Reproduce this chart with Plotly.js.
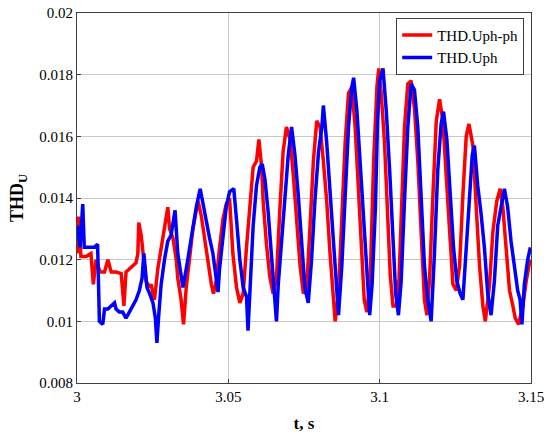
<!DOCTYPE html>
<html>
<head>
<meta charset="utf-8">
<script src="https://cdn.plot.ly/plotly-3.0.1.min.js"></script>
<style>html,body{margin:0;padding:0;background:#fff;}#chart{width:550px;height:438px;}</style>
</head>
<body>
<div id="chart"></div>
<script>
// THD.Uph-ph (red)
const tRed = [3.0000,3.0005,3.0013,3.0030,3.0046,3.0054,3.0063,3.0076,3.0091,3.0102,3.0113,3.0129,3.0146,3.0155,3.0162,3.0173,3.0184,3.0195,3.0201,3.0204,3.0212,3.0217,3.0223,3.0228,3.0240,3.0245,3.0251,3.0256,3.0267,3.0278,3.0289,3.0300,3.0306,3.0317,3.0328,3.0333,3.0344,3.0352,3.0361,3.0372,3.0383,3.0394,3.0400,3.0411,3.0422,3.0433,3.0444,3.0451,3.0460,3.0471,3.0482,3.0493,3.0504,
3.0515,3.0527,3.0538,3.0549,3.0560,3.0571,3.0582,3.0593,3.0601,3.0610,3.0615,3.0626,3.0637,3.0648,3.0659,3.0670,3.0681,3.0692,3.0704,3.0715,3.0726,3.0737,3.0748,3.0759,3.0770,3.0781,3.0792,3.0803,3.0814,3.0825,3.0836,3.0847,3.0853,3.0864,3.0875,3.0886,3.0897,3.0908,3.0919,3.0930,3.0941,3.0949,3.0958,3.0969,3.0980,3.0991,3.0997,
3.1005,3.1016,3.1027,3.1035,3.1044,3.1055,3.1064,3.1071,3.1082,3.1093,3.1104,3.1115,3.1126,3.1137,3.1148,3.1156,3.1165,3.1176,3.1187,3.1198,3.1209,3.1220,3.1231,3.1242,3.1253,3.1264,3.1275,3.1286,3.1295,3.1308,3.1319,3.1330,3.1341,3.1349,3.1363,3.1374,3.1387,3.1398,3.1407,3.1418,3.1429,3.1440,3.1448,3.1459,3.1473,3.1484,3.1497];
const thdUphph = [0.0122,0.0134,0.0121,0.0121,0.0122,0.0112,0.0120,0.0116,0.0116,0.0120,0.0116,0.0116,0.01155,0.0105,0.0116,0.0117,0.0118,0.0119,0.0122,0.0132,0.0128,0.0124,0.0119,0.0113,0.0111,0.0112,0.0109,0.0107,0.0117,0.0124,0.0131,0.0137,0.0130,0.0127,0.0120,0.0114,0.0107,0.0099,0.0111,0.0120,0.0130,0.0136,0.0139,0.0134,0.0126,0.0118,0.0112,0.0109,0.0113,0.0124,0.0133,0.0138,0.0140,
0.0122,0.0111,0.0106,0.0109,0.0124,0.0138,0.0150,0.0152,0.0159,0.0150,0.0139,0.0125,0.01145,0.0109,0.0114,0.0136,0.0155,0.0163,0.0159,0.0147,0.0133,0.0118,0.0109,0.0111,0.0131,0.0152,0.0165,0.0163,0.0152,0.0139,0.0122,0.0107,0.0100,0.0109,0.0133,0.0158,0.0174,0.0176,0.0163,0.0144,0.0124,0.0107,0.0103,0.0114,0.0152,0.0176,0.0182,
0.0174,0.0158,0.0136,0.0115,0.0105,0.0105,0.0114,0.0136,0.0163,0.0177,0.0178,0.0169,0.0152,0.0129,0.0107,0.0102,0.0114,0.0141,0.0165,0.0172,0.0165,0.0147,0.0127,0.0112,0.0110,0.0118,0.0141,0.0160,0.0164,0.0157,0.0137,0.0118,0.0105,0.0100,0.0112,0.0129,0.0139,0.0143,0.0137,0.0124,0.0110,0.0105,0.0101,0.0099,0.0105,0.0113,0.0120];

// THD.Uph (blue)
const tBlue = [3.0000,3.0002,3.0010,3.0019,3.0024,3.0041,3.0057,3.0068,3.0072,3.0074,3.0085,3.0091,3.0102,3.0113,3.0124,3.0129,3.0140,3.0151,3.0162,3.0173,3.0184,3.0195,3.0206,3.0215,3.0221,3.0225,3.0231,3.0240,3.0251,3.0259,3.0264,3.0270,3.0278,3.0289,3.0300,3.0311,3.0324,3.0333,3.0344,3.0350,3.0361,3.0372,3.0383,3.0394,3.0407,3.0416,3.0427,3.0438,3.0449,3.0460,3.0466,3.0471,3.0482,3.0493,3.0504,
3.0518,3.0527,3.0538,3.0549,3.0560,3.0565,3.0571,3.0582,3.0593,3.0604,3.0612,3.0621,3.0632,3.0643,3.0654,3.0659,3.0665,3.0676,3.0687,3.0698,3.0709,3.0720,3.0731,3.0742,3.0753,3.0764,3.0775,3.0786,3.0798,3.0809,3.0814,3.0825,3.0836,3.0847,3.0858,3.0864,3.0875,3.0886,3.0897,3.0908,3.0914,3.0925,3.0936,3.0947,3.0958,3.0967,3.0975,3.0986,3.0993,
3.1000,3.1011,3.1022,3.1033,3.1044,3.1053,3.1062,3.1071,3.1082,3.1093,3.1104,3.1115,3.1126,3.1137,3.1148,3.1159,3.1170,3.1181,3.1192,3.1203,3.1211,3.1222,3.1233,3.1244,3.1255,3.1266,3.1275,3.1284,3.1295,3.1306,3.1313,3.1324,3.1335,3.1346,3.1357,3.1368,3.1379,3.1390,3.1401,3.1412,3.1423,3.1434,3.1445,3.1456,3.1464,3.1470,3.1478,3.1489,3.1498];
const thdUph = [0.0127,0.0131,0.0124,0.0138,0.0124,0.0124,0.0124,0.0125,0.0112,0.0100,0.0099,0.0104,0.0104,0.0105,0.0106,0.0104,0.0103,0.0103,0.0101,0.0103,0.0105,0.0107,0.0110,0.0114,0.0122,0.0117,0.0111,0.0109,0.0106,0.0101,0.0093,0.0102,0.0112,0.0120,0.0126,0.0128,0.0136,0.0122,0.0114,0.0111,0.0117,0.0124,0.0131,0.0137,0.0143,0.0138,0.0133,0.0127,0.0122,0.0114,0.01095,0.0117,0.0126,0.0137,0.0142,
0.0143,0.0133,0.0120,0.0111,0.0108,0.0097,0.0109,0.0131,0.0144,0.0150,0.0151,0.0146,0.0135,0.0122,0.0109,0.0100,0.0112,0.0126,0.0141,0.0154,0.0163,0.0154,0.0141,0.0124,0.0111,0.0106,0.0120,0.0139,0.0155,0.0163,0.0170,0.0158,0.0141,0.0124,0.0107,0.0102,0.0118,0.0141,0.0163,0.0176,0.0179,0.0168,0.0150,0.0133,0.0113,0.0102,0.0112,0.0137,0.0165,
0.0178,0.0182,0.0168,0.0149,0.0127,0.0109,0.0102,0.0113,0.0139,0.0163,0.0177,0.0175,0.0163,0.0139,0.0118,0.0107,0.0100,0.0122,0.0149,0.0164,0.0168,0.0159,0.0139,0.0124,0.0113,0.0109,0.0107,0.0120,0.0139,0.0154,0.0157,0.0144,0.0135,0.0124,0.0109,0.0102,0.0113,0.0131,0.0137,0.0143,0.0137,0.0126,0.0118,0.0110,0.0107,0.0099,0.0112,0.0120,0.0124];

const xTicks = [3, 3.05, 3.1, 3.15];
const xTickText = ['3', '3.05', '3.1', '3.15'];
const yTicks = [0.008, 0.01, 0.012, 0.014, 0.016, 0.018, 0.02];
const yTickText = ['0.008', '0.01', '0.012', '0.014', '0.016', '0.018', '0.02'];

const fam = 'Liberation Serif, Times New Roman, DejaVu Serif, serif';
const font = {family: fam, size: 15, color: '#000'};

const traces = [
  {x: tRed, y: thdUphph, type: 'scatter', mode: 'lines', name: 'THD.Uph-ph',
   line: {color: '#ff0000', width: 3.5}},
  {x: tBlue, y: thdUph, type: 'scatter', mode: 'lines', name: 'THD.Uph',
   line: {color: '#0000ff', width: 3.5}}
];

const axisCommon = {
  showgrid: true, gridcolor: '#c8c8c8', gridwidth: 1,
  showline: true, linecolor: '#404040', linewidth: 1, mirror: true,
  ticks: 'inside', ticklen: 4, tickcolor: '#404040',
  zeroline: false, tickfont: font
};

const layout = {
  width: 550, height: 438,
  margin: {l: 77, r: 19, t: 13, b: 55},
  paper_bgcolor: '#fff', plot_bgcolor: '#fff',
  font: font,
  showlegend: true,
  legend: {x: 0.985, y: 0.987, xanchor: 'right', yanchor: 'top',
           bgcolor: '#fff', bordercolor: '#404040', borderwidth: 1,
           font: {family: fam, size: 15, color: '#000'}, tracegroupgap: 0},
  xaxis: Object.assign({}, axisCommon, {
    range: [3, 3.15], tickmode: 'array', tickvals: xTicks, ticktext: xTickText,
    title: {text: '<b>t, s</b>', font: {family: fam, size: 17, color: '#000'}, standoff: 13}
  }),
  yaxis: Object.assign({}, axisCommon, {
    range: [0.008, 0.02], tickmode: 'array', tickvals: yTicks, ticktext: yTickText,
    title: {text: '<b>THD<sub>U</sub></b>', font: {family: fam, size: 18, color: '#000'}, standoff: 10}
  })
};

Plotly.newPlot('chart', traces, layout, {displayModeBar: false, staticPlot: true});
</script>
</body>
</html>
